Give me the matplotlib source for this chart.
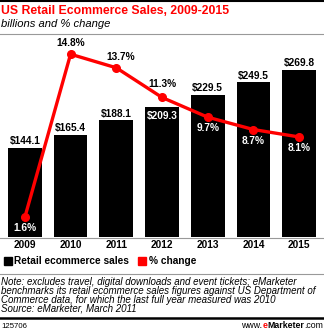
import matplotlib
matplotlib.use("Agg")
import matplotlib.pyplot as plt
from matplotlib.lines import Line2D
from matplotlib.patches import Rectangle

years = ["2009", "2010", "2011", "2012", "2013", "2014", "2015"]
sales = [144.1, 165.4, 188.1, 209.3, 229.5, 249.5, 269.8]
pct = [1.6, 14.8, 13.7, 11.3, 9.7, 8.7, 8.1]
sales_labels = ["$144.1", "$165.4", "$188.1", "$209.3", "$229.5", "$249.5", "$269.8"]
pct_labels = ["1.6%", "14.8%", "13.7%", "11.3%", "9.7%", "8.7%", "8.1%"]

plt.rcParams['font.family'] = ['Liberation Sans', 'DejaVu Sans']

W, H = 324, 331
fig = plt.figure(figsize=(W / 100, H / 100), dpi=100)

def fy(y):
    return 1 - y / H

def fx(x):
    return x / W

LBL = 7.3  # bold label size

# plot area in pixels
left, right, top, bottom = 2, 322, 40, 237
ax = fig.add_axes([fx(left), fy(bottom), fx(right - left), (bottom - top) / H])
x = list(range(len(years)))
ax.bar(x, sales, width=0.74, color="black")
ax.set_xlim(-0.5, 6.5)
ax.set_ylim(0, 318)
ax.axis("off")

ax2 = ax.twinx()
ax2.plot(x, pct, color="#ff0000", lw=2.4, marker="o", ms=5.5, zorder=5)
ax2.set_ylim(0, 15.95)
ax2.axis("off")

# bar value labels
for i, (v, lab) in enumerate(zip(sales, sales_labels)):
    if i == 3:
        ax.annotate(lab, (i, v), xytext=(0, -2.5), textcoords="offset points",
                    ha="center", va="top", color="white", fontsize=LBL, fontweight="bold")
    else:
        ax.annotate(lab, (i, v), xytext=(0, 1), textcoords="offset points",
                    ha="center", va="bottom", color="black", fontsize=LBL, fontweight="bold")

# percent labels
offs = [(0, -4.5, "white", "top"), (0, 4.5, "black", "bottom"), (3, 4.5, "black", "bottom"),
        (0, 6, "black", "bottom"), (0, -4.5, "white", "top"), (0, -4.5, "white", "top"),
        (0, -4.5, "white", "top")]
for i, (p, lab) in enumerate(zip(pct, pct_labels)):
    dx, dy, c, va = offs[i]
    ax2.annotate(lab, (i, p), xytext=(dx, dy), textcoords="offset points",
                 ha="center", va=va, color=c, fontsize=LBL, fontweight="bold", zorder=6)

# baseline and year labels
fig.add_artist(Line2D([fx(0), fx(324)], [fy(237.5), fy(237.5)], color="#999999", lw=0.8))
for i, yr in enumerate(years):
    fig.text(fx(left + (i + 0.5) * (right - left) / 7), fy(245), yr, ha="center", va="center",
             fontsize=LBL, fontweight="bold")

# legend
fig.add_artist(Rectangle((fx(4), fy(265)), fx(8), 8 / H, color="black"))
fig.text(fx(14), fy(261), "Retail ecommerce sales", ha="left", va="center", fontsize=LBL, fontweight="bold")
fig.add_artist(Rectangle((fx(138), fy(265)), fx(8), 8 / H, color="#ff0000"))
fig.text(fx(149), fy(261), "% change", ha="left", va="center", fontsize=LBL, fontweight="bold")

# header
fig.add_artist(Line2D([0, 1], [fy(1), fy(1)], color="black", lw=1.5))
fig.text(fx(1), fy(11), "US Retail Ecommerce Sales, 2009-2015", ha="left", va="center",
         fontsize=8.8, fontweight="bold", color="#ff0000")
fig.text(fx(1), fy(24), "billions and % change", ha="left", va="center",
         fontsize=8.1, style="italic", color="black")
fig.add_artist(Line2D([0, 1], [fy(33.5), fy(33.5)], color="#999999", lw=0.8))

# notes
fig.add_artist(Line2D([0, 1], [fy(274), fy(274)], color="#999999", lw=0.8))
notes = ["Note: excludes travel, digital downloads and event tickets; eMarketer",
         "benchmarks its retail ecommerce sales figures against US Department of",
         "Commerce data, for which the last full year measured was 2010",
         "Source: eMarketer, March 2011"]
for k, line in enumerate(notes):
    fig.text(fx(1), fy(282 + 8.8 * k), line, ha="left", va="center", fontsize=7.0, style="italic")

# footer
fig.add_artist(Line2D([0, 1], [fy(318), fy(318)], color="black", lw=1.8))
fig.text(fx(1), fy(326), "125706", ha="left", va="center", fontsize=5.6)
fig.canvas.draw()
r = fig.canvas.get_renderer()
# eMarketer logo text, built piece by piece and right aligned
parts = [("www.", "black", "normal"), ("e", "#ff0000", "bold"), ("Marketer", "black", "bold"), (".com", "black", "normal")]
widths = []
for s, c, w in parts:
    tt = fig.text(0, 0, s, fontsize=6.3, fontweight=w)
    widths.append(tt.get_window_extent(r).width)
    tt.remove()
xpos = 323 - sum(widths)
for (s, c, w), wd in zip(parts, widths):
    fig.text(fx(xpos), fy(326), s, ha="left", va="center", fontsize=6.3, fontweight=w, color=c)
    xpos += wd

fig.savefig("out.png", dpi=100)
